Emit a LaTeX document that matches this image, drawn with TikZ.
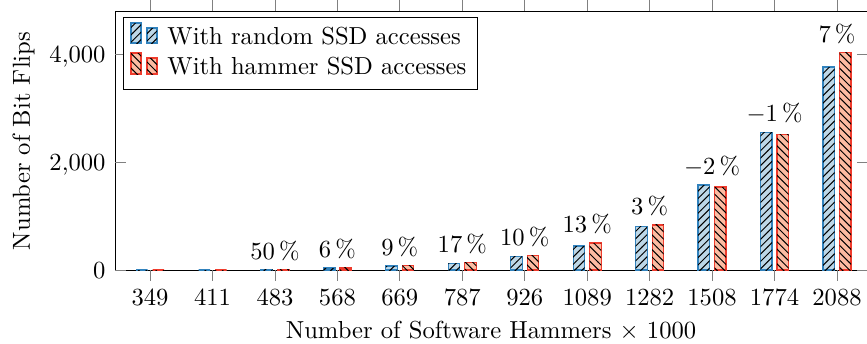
\documentclass[tikz,border=0pt]{standalone}
\usetikzlibrary{patterns}
\definecolor{bluedraw}{RGB}{49,130,189}
\definecolor{bluefill}{RGB}{189,215,231}
\definecolor{reddraw}{RGB}{239,59,44}
\definecolor{redfill}{RGB}{252,187,161}
\tikzset{
  bluebar/.style={fill=bluefill, draw=bluedraw, line width=0.5pt, postaction={pattern=north east lines, pattern color=black}},
  redbar/.style={fill=redfill, draw=reddraw, line width=0.5pt, postaction={pattern=north west lines, pattern color=black}},
  axisline/.style={draw=black, line width=0.4pt},
  tickmark/.style={draw=gray, line width=0.4pt},
  ticklab/.style={inner sep=0pt, font=\normalsize},
  pctlab/.style={anchor=south, font=\normalsize},
}
\begin{document}
\begin{tikzpicture}[x=0.4065pt,y=-0.4065pt]
\useasboundingbox (0,0) rectangle (867,343);
\clip (0,0) rectangle (867,343);
% axis frame
\draw[axisline] (115,11) rectangle (868,270);
% y ticks and labels
\foreach \yy/\t in {270/0, 162/{2,000}, 54/{4,000}}{
  \draw[tickmark] (115,\yy) -- (126,\yy);
  \draw[tickmark] (868,\yy) -- (857,\yy);
  \node[ticklab, anchor=base east] at (106,\yy+8) {\t};
}
% bars
\foreach \xc/\c/\b/\r [count=\n] in {150/349/0/0, 212.5/411/0/0, 275/483/4/6, 337.4/568/37/39, 399.8/669/74/80, 462.3/787/123/144, 524.7/926/247/272, 587.2/1089/444/500, 649.6/1282/802/835, 712/1508/1574/1537, 774.5/1774/2543/2506, 837/2088/3759/4030}{
  \pgfmathsetmacro\yb{270-0.054*\b}
  \pgfmathsetmacro\yr{270-0.054*\r}
  \draw[tickmark] (\xc,270) -- (\xc,281);
  \draw[tickmark] (\xc,11) -- (\xc,0);
  \node[ticklab, anchor=base] (xt\n) at (\xc,305) {\c};
  \path[bluebar] (\xc-14,270) rectangle (\xc-2.5,\yb);
  \path[redbar] (\xc+2.5,270) rectangle (\xc+14,\yr);
}
% percentage labels
\foreach \xc/\top/\l [count=\n] in {275/270/{50\,\%}, 337.4/268/{6\,\%}, 399.8/265.7/{9\,\%}, 462.3/262.2/{17\,\%}, 524.7/255.3/{10\,\%}, 587.2/243/{13\,\%}, 649.6/224.9/{3\,\%}, 712/185/{$-2$\,\%}, 774.5/132.7/{$-1$\,\%}, 837/52.4/{7\,\%}}{
  \node[pctlab] (pct\n) at (\xc,\top) {\l};
}
% axis labels
\node[anchor=base] (xlabel) at (491,338) {Number of Software Hammers $\times$ 1000};
\node[anchor=base, rotate=90] (ylabel) at (30,141) {Number of Bit Flips};
% legend
\draw[axisline, fill=white] (123,17) rectangle (477,89);
\path[bluebar] (131,43) rectangle (141,23);
\path[bluebar] (147,43) rectangle (157,28);
\path[redbar] (131,74) rectangle (141,53);
\path[redbar] (147,74) rectangle (157,58);
\node[inner sep=0pt, anchor=base west] (leg1) at (167,44) {With random SSD accesses};
\node[inner sep=0pt, anchor=base west] (leg2) at (167,74) {With hammer SSD accesses};
\end{tikzpicture}
\end{document}
